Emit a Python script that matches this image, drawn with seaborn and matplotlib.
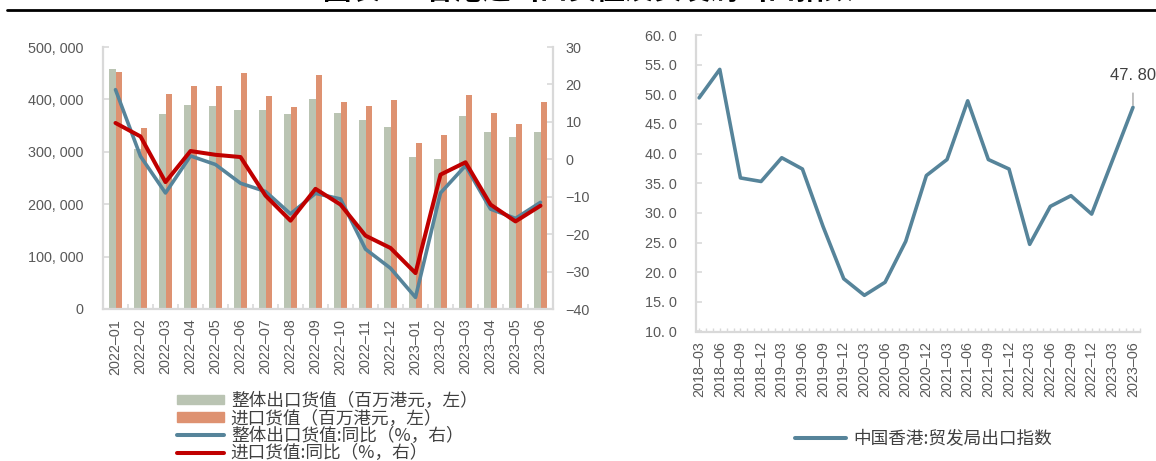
import numpy as np
import pandas as pd
import matplotlib
matplotlib.use("Agg")
import matplotlib.pyplot as plt
from matplotlib.patches import Patch
from matplotlib.lines import Line2D
from matplotlib.font_manager import FontProperties
import seaborn as sns

# ---- monthly trade data (HK$ million, YoY %) ----
months = ["2022-01", "2022-02", "2022-03", "2022-04", "2022-05", "2022-06",
          "2022-07", "2022-08", "2022-09", "2022-10", "2022-11", "2022-12",
          "2023-01", "2023-02", "2023-03", "2023-04", "2023-05", "2023-06"]
export_value = [458600, 305000, 372600, 388500, 387300, 380300,
                379000, 371300, 401300, 373900, 359900, 347100,
                290400, 285400, 367500, 337600, 327400, 337000]
import_value = [452900, 345900, 410200, 426100, 424800, 449700,
                407000, 385400, 446500, 395500, 386600, 399400,
                315900, 331200, 407600, 374500, 353500, 394300]
export_yoy = [18.6, 0.8, -9.0, 0.9, -1.4, -6.4, -8.6, -14.6, -9.1,
              -10.6, -24.0, -29.1, -36.9, -9.0, -1.7, -13.3, -15.8, -11.5]
import_yoy = [9.7, 6.1, -6.1, 2.2, 1.2, 0.6, -9.7, -16.4, -7.9,
              -12.1, -20.4, -23.7, -30.4, -4.1, -0.8, -12.1, -16.6, -12.4]

# ---- quarterly export index ----
quarters = ["2018-03", "2018-06", "2018-09", "2018-12", "2019-03", "2019-06",
            "2019-09", "2019-12", "2020-03", "2020-06", "2020-09", "2020-12",
            "2021-03", "2021-06", "2021-09", "2021-12", "2022-03", "2022-06",
            "2022-09", "2022-12", "2023-03", "2023-06"]
export_index = [49.4, 54.2, 35.9, 35.3, 39.3, 37.4, 27.7, 18.9, 16.1, 18.3,
                25.2, 36.3, 39.0, 48.9, 39.0, 37.4, 24.7, 31.1, 32.9, 29.8,
                38.8, 47.8]

bar_labels = ["整体出口货值（百万港元，左）", "进口货值（百万港元，左）"]
line_labels = ["整体出口货值:同比（%，右）", "进口货值:同比（%，右）"]
index_label = "中国香港:贸发局出口指数"
title_text = "图表2：香港进出口货值及贸发局出口指数"

GREEN = "#BAC4B3"
ORANGE = "#DE9271"
BLUE = "#56849A"
RED = "#C00000"
SPINE = "#D9D9D9"
TICKTXT = "#595959"
TXT = "#404040"

sns.set_theme(style="white")
plt.rcParams["font.family"] = ["Liberation Sans", "Noto Sans CJK SC", "DejaVu Sans"]
cjk = FontProperties(family=["Noto Sans CJK SC", "DejaVu Sans"], size=12.7)

W, H = 1156, 461
fig = plt.figure(figsize=(W / 100, H / 100), dpi=100)


def px_axes(x0, y0, x1, y1):
    """Axes placed by pixel box (left, top, right, bottom)."""
    return fig.add_axes([x0 / W, 1 - y1 / H, (x1 - x0) / W, (y1 - y0) / H])


# ================= left: trade values and growth =================
ax1 = px_axes(103, 47, 553, 309)
bars = pd.DataFrame({
    "month": months * 2,
    "value": export_value + import_value,
    "series": [bar_labels[0]] * len(months) + [bar_labels[1]] * len(months),
})
sns.barplot(data=bars, x="month", y="value", hue="series",
            palette=[GREEN, ORANGE], width=0.5, saturation=1,
            linewidth=0, legend=False, ax=ax1)
ax1.set_xlim(-0.5, len(months) - 0.5)
ax1.set_ylim(0, 500000)
ax1.set_yticks(np.arange(0, 500001, 100000))
ax1.set_yticklabels([f"{v:,}".replace(",", ", ") for v in range(0, 500001, 100000)])
ax1.set_xticks(np.arange(len(months)))
ax1.set_xticklabels([m.replace("-", "–") for m in months], rotation=90)
ax1.set_xticks(np.arange(-0.5, len(months), 1), minor=True)
ax1.set_xlabel("")
ax1.set_ylabel("")

ax2 = ax1.twinx()
sns.lineplot(x=np.arange(len(months)), y=export_yoy, color=BLUE, lw=2.6, ax=ax2)
sns.lineplot(x=np.arange(len(months)), y=import_yoy, color=RED, lw=2.9, ax=ax2)
ax2.set_ylim(-40, 30)
ax2.set_yticks(np.arange(-40, 31, 10))
ax2.set_xlim(-0.5, len(months) - 0.5)

ax1.tick_params(axis="y", direction="in", length=4, color=SPINE, width=1.2,
                pad=14, labelsize=10.4, labelcolor=TICKTXT, left=True)
ax1.tick_params(axis="x", which="major", length=0, pad=7,
                labelsize=10.4, labelcolor=TICKTXT)
ax1.tick_params(axis="x", which="minor", direction="in", length=3.5,
                color=SPINE, width=1.2, bottom=True)
ax2.tick_params(axis="y", direction="in", length=4, color=SPINE, width=1.2,
                pad=9, labelsize=10.4, labelcolor=TICKTXT, right=True)

for s in ("top", "right"):
    ax1.spines[s].set_visible(False)
for s in ("top", "left", "bottom"):
    ax2.spines[s].set_visible(False)
for sp in (ax1.spines["left"], ax1.spines["bottom"], ax2.spines["right"]):
    sp.set_color(SPINE)
    sp.set_linewidth(1.6)

handles = [Patch(color=GREEN), Patch(color=ORANGE),
           Line2D([], [], color=BLUE, lw=2.9, solid_capstyle="round"),
           Line2D([], [], color=RED, lw=2.9, solid_capstyle="round")]
leg1 = fig.legend(handles, bar_labels + line_labels, loc="upper left",
                  bbox_to_anchor=(177 / W, 1 - 392 / H), frameon=False,
                  prop=cjk, handlelength=2.65, handleheight=0.45,
                  handletextpad=0.4, labelspacing=-0.03, borderpad=0,
                  borderaxespad=0)
for t in leg1.get_texts():
    t.set_color(TXT)

# ================= right: export index =================
ax3 = px_axes(696, 35, 1140, 331.5)
qx = np.arange(len(quarters))
sns.lineplot(x=qx, y=export_index, color=BLUE, lw=2.6, ax=ax3)
ax3.set_xlim(-0.15, len(quarters) - 1 + 0.34)
ax3.set_ylim(10, 60)
ticks = np.arange(10, 60.1, 5)
ax3.set_yticks(ticks)
ax3.set_yticklabels([f"{v:.1f}".replace(".", ". ") for v in ticks])
ax3.set_xticks(qx)
ax3.set_xticklabels([q.replace("-", "–") for q in quarters], rotation=90)
ax3.set_xticks(np.arange(0, len(quarters) - 1 + 0.34, 1 / 3), minor=True)
ax3.set_xlabel("")
ax3.set_ylabel("")
ax3.tick_params(axis="y", direction="in", length=4, color=SPINE, width=1.2,
                pad=14, labelsize=10.4, labelcolor=TICKTXT, left=True)
ax3.tick_params(axis="x", which="both", direction="in", length=3, color=SPINE,
                width=1.0, pad=7, labelsize=10.4, labelcolor=TICKTXT, bottom=True)
for s in ("top", "right"):
    ax3.spines[s].set_visible(False)
for s in ("left", "bottom"):
    ax3.spines[s].set_color(SPINE)
    ax3.spines[s].set_linewidth(1.6)

last = len(quarters) - 1
ax3.annotate(f"{export_index[last]:.2f}".replace(".", ". "),
             xy=(last, export_index[last]), xytext=(0, 32),
             textcoords="offset pixels", ha="center", va="center",
             fontsize=11.9, color=TXT,
             arrowprops=dict(arrowstyle="-", color="#A6A6A6", lw=1,
                             shrinkA=5, shrinkB=1.5))

leg2 = fig.legend([Line2D([], [], color=BLUE, lw=2.9, solid_capstyle="round")],
                  [index_label], loc="center left",
                  bbox_to_anchor=(795 / W, 1 - 439 / H), frameon=False,
                  prop=cjk, handlelength=2.9, handletextpad=0.4,
                  borderpad=0, borderaxespad=0)
for t in leg2.get_texts():
    t.set_color(TXT)

# ---- header: title and rule ----
fig.text(588 / W, 1 - 5 / H, title_text, ha="center", va="bottom",
         fontsize=20.5, fontweight="bold", color="black",
         family=["Noto Sans CJK SC", "DejaVu Sans"])
fig.add_artist(Line2D([7 / W, 1], [1 - 10 / H, 1 - 10 / H],
                      color="black", lw=2.0, transform=fig.transFigure))

fig.savefig("out.png", dpi=100, facecolor="white")
